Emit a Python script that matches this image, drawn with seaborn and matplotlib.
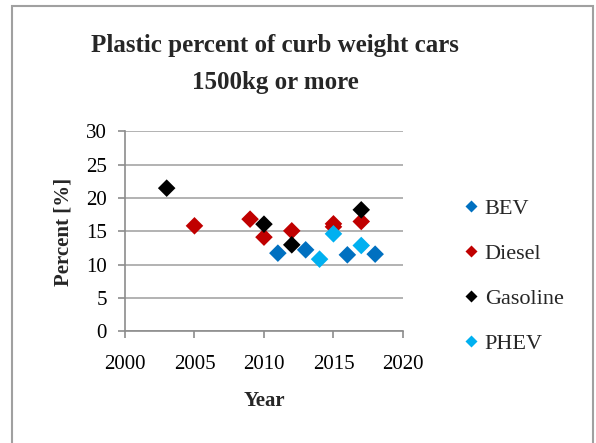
import matplotlib
matplotlib.use("Agg")
import matplotlib.pyplot as plt
from matplotlib.patches import Rectangle
from matplotlib.lines import Line2D
import seaborn as sns
import pandas as pd

# Plastic share of curb weight (%) by model year, per powertrain
bev_years = [2011, 2013, 2016, 2018]
bev_values = [11.75, 12.25, 11.5, 11.6]

diesel_years = [2005, 2009, 2010, 2012, 2015, 2015, 2017]
diesel_values = [15.85, 16.85, 14.15, 15.1, 16.15, 15.7, 16.5]

gasoline_years = [2003, 2010, 2012, 2017]
gasoline_values = [21.5, 16.1, 13.0, 18.25]

phev_years = [2014, 2015, 2017]
phev_values = [10.85, 14.65, 12.9]

series_names = ["BEV", "Diesel", "Gasoline", "PHEV"]
series_colors = ["#0070C0", "#C00000", "#000000", "#00B0F0"]

x_ticks = [2000, 2005, 2010, 2015, 2020]
y_ticks = [0, 5, 10, 15, 20, 25, 30]

frames = []
for name, yrs, vals in zip(series_names,
                           [bev_years, diesel_years, gasoline_years, phev_years],
                           [bev_values, diesel_values, gasoline_values, phev_values]):
    frames.append(pd.DataFrame({"Year": yrs, "Percent": vals, "Type": name}))
df = pd.concat(frames, ignore_index=True)

sns.set_theme(style="white")
plt.rcParams["font.family"] = ["Liberation Serif", "DejaVu Serif"]

fig = plt.figure(figsize=(5.96, 4.43), dpi=100)
ax = fig.add_axes([0.2097, 0.2517, 0.4664, 0.4515])

palette = dict(zip(series_names, series_colors))
sns.scatterplot(data=df, x="Year", y="Percent", hue="Type", hue_order=series_names,
                palette=palette, marker="D", s=80, linewidth=0, ax=ax, legend=False)

ax.set_xlim(2000, 2020)
ax.set_ylim(0, 30)
ax.set_xticks(x_ticks)
ax.set_yticks(y_ticks)
ax.tick_params(axis="both", labelsize=15, colors="#8c8c8c", labelcolor="black",
               length=5, width=1.2, direction="out", left=True, bottom=True)
ax.tick_params(axis="x", pad=12)
ax.tick_params(axis="y", pad=8)
ax.yaxis.grid(True, color="#a6a6a6", linewidth=1.2)
ax.xaxis.grid(False)
for side in ["top", "right"]:
    ax.spines[side].set_visible(False)
for side in ["left", "bottom"]:
    ax.spines[side].set_color("#8c8c8c")
    ax.spines[side].set_linewidth(1.2)

ax.set_xlabel("Year", fontsize=15, fontweight="bold", labelpad=12)
ax.set_ylabel("Percent [%]", fontsize=15, fontweight="bold", labelpad=9)

fig.text(0.462, 0.856, "Plastic percent of curb weight cars\n1500kg or more",
         ha="center", va="center", fontsize=18, fontweight="bold", linespacing=1.8)

handles = [Line2D([0], [0], marker="D", color="none", markerfacecolor=c,
                  markeredgecolor="none", markersize=6) for c in series_colors]
fig.legend(handles, series_names, loc="upper left", bbox_to_anchor=(0.765, 0.572),
           frameon=False, fontsize=16, handlelength=0.6, handletextpad=0.3,
           labelspacing=1.1, borderaxespad=0)

fig.patches.append(Rectangle((12 / 596, -0.05), (593 - 12) / 596, 1 - 6 / 443 + 0.05,
                             transform=fig.transFigure, fill=False,
                             edgecolor="#a0a0a0", linewidth=1.5))

fig.savefig("out.png", dpi=100)
